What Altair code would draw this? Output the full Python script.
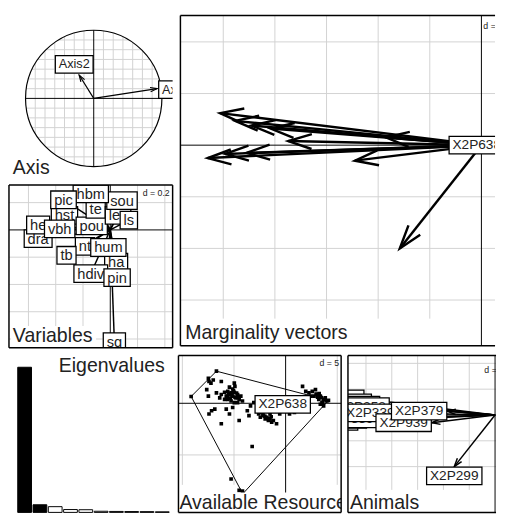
import altair as alt
import numpy as np
import pandas as pd

FONT = "Liberation Sans"
GRID = "#d2d2d2"
INK = "#222222"

# ---------------- data ----------------
# correlation circle (Axis panel)
axis_names = ["Axis1", "Axis2"]
axis_x = [0.929, -0.214]
axis_y = [0.143, 0.343]
axis_lab_x = [1.23, -0.286]
axis_lab_y = [0.129, 0.50]

# Variables panel (drawing order: bottom to top)
var_names = ["sq", "dra", "he", "hst", "nt", "pou", "te", "les", "ls", "ha",
             "hdiv", "pin", "hum", "tb", "vbh", "sou", "hbm", "pic"]
var_x = [0.03, -0.529, -0.529, -0.336, -0.186, -0.136, -0.107, 0.057, 0.136, 0.043,
         -0.143, 0.05, -0.014, -0.321, -0.371, 0.086, -0.143, -0.343]
var_y = [-0.82, -0.064, 0.036, 0.107, -0.121, 0.029, 0.15, 0.107, 0.071, -0.236,
         -0.321, -0.35, -0.129, -0.186, 0.007, 0.214, 0.264, 0.221]

# marginality vectors of the animals
ani_names = ["X2P038", "X2P738", "X2P158", "X2P258", "X2P339", "X2P468",
             "X2P868", "X2P559", "X2P939", "X2P379", "X2P299"]
ani_x = [-5.06, -4.77, -4.45, -4.08, -3.74, -5.30, -4.96, -4.55, -2.45, -1.85, -1.58]
ani_y = [0.62, 0.47, 0.38, 0.32, 0.08, -0.25, -0.17, -0.15, -0.30, 0.15, -2.00]
centre_label = "X2P638"

# eigenvalues
eig_vals = [15.2, 0.8, 0.6, 0.3, 0.28, 0.12, 0.10, 0.09, 0.08, 0.06]
n_shown_axes = 2

# available resource units
res_x = [-7.48, -7.42, -7.23, -7.64, -7.01, -6.23, -4.97, -4.91,
         -6.23, -5.91, -5.75, -5.60, -5.44, -5.28, -5.13, -4.97, -4.81, -4.65, -4.50, -4.34,
         -5.60, -5.28, -4.97, -4.65, -5.91, -6.38, -6.70, -4.18, -5.13, -5.44,
         -7.17, -6.86, -7.42, -6.23, -5.75, -5.13, -5.44, -4.50, -3.71, -3.40, -3.55, -3.08,
         -2.61, -2.45, -2.14, -1.98, -1.82, -1.67, -1.51, -1.35, -1.19, -0.88, -2.30, -1.51,
         -0.57, -0.09, 0.38, 0.85, 1.01, 1.48,
         1.64, 1.95, 2.26, 2.58, 2.74, 3.05, 3.21, 3.36, 3.52, 3.68, 3.84, 3.99, 3.68, 3.36, 2.89, 2.42,
         -3.24, -5.28, -4.50, -4.18, -7.48,
         -6.70, 4.15, -4.15, -9.15,
         -5.50, -5.20, -4.90, -5.35, -5.05, -4.75, -5.65, -4.60, -2.00, -1.70, -1.40, -2.20,
         3.10, 3.45, 3.80, 3.25, 2.95, 3.60]
res_y = [2.42, 2.11, 1.95, 1.32, 2.26, 2.11, 1.95, 1.64,
         0.85, 1.07, 0.69, 1.16, 0.85, 1.01, 0.69, 1.07, 0.53, 0.85, 0.38, 0.69,
         0.38, 0.22, 0.06, 0.06, 0.38, 0.53, 1.01, 0.22, 1.38, 1.57,
         -0.72, -0.57, -1.04, -1.98, -0.57, -0.41, -1.04, -1.67, -0.72, -0.25, -1.19, 0.06,
         -1.04, -1.35, -1.19, -1.51, -1.35, -1.67, -1.51, -1.82, -1.67, -1.98, -0.88, -1.04,
         -1.04, -0.72, -1.04, -0.88, -0.41, -0.72,
         1.64, 1.16, 1.01, 1.16, 0.69, 0.85, 0.38, 0.69, 0.06, 0.38, 0.53, 0.22, -0.25, -0.09, 1.32, 0.69,
         -4.18, -7.33, -8.43, -8.49, 0.69,
         3.11, 0.28, -8.77, 0.66,
         0.95, 0.80, 0.60, 0.50, 1.20, 1.00, 0.70, 0.55, -1.25, -1.45, -1.30, -1.10,
         0.60, 0.55, 0.35, 0.95, 0.90, 0.10]
hull_x = [-6.70, 4.15, -4.15, -9.15]
hull_y = [3.11, 0.28, -8.77, 0.66]
avail_label_x, avail_label_y = -0.28, -0.10
marg_label_x, marg_label_y = -0.09, 0.0

# ---------------- helpers ----------------
CW = {'X': .667, 'P': .667, 'A': .667, 'T': .611, 'a': .556, 'b': .556, 'c': .5, 'd': .556,
      'e': .556, 'g': .556, 'h': .556, 'i': .222, 'l': .222, 'm': .833, 'n': .556, 'o': .556,
      'p': .556, 'q': .556, 'r': .333, 's': .5, 't': .278, 'u': .556, 'v': .5, 'x': .5,
      'y': .5, ' ': .278, 'E': .667, 'M': .833, 'V': .667, 'R': .722}


def text_w(s, fs):
    return sum(CW.get(c, 0.556) for c in s) * fs


def box_path(s, fs, padx=3.5, h=9.0):
    w = text_w(s, fs) / 2 + padx
    return f"M{-w:.1f},{-h}H{w:.1f}V{h}H{-w:.1f}Z"


class Panel:
    def __init__(self, w, h, k=None, ox=None, oy=None, xd=None, yd=None):
        self.w, self.h, self.k = w, h, k
        self.xd = xd if xd is not None else [-ox / k, (w - ox) / k]
        self.yd = yd if yd is not None else [-(h - oy) / k, oy / k]

    def X(self, f):
        return alt.X(f, type="quantitative", axis=None,
                     scale=alt.Scale(domain=self.xd, nice=False, zero=False))

    def Y(self, f):
        return alt.Y(f, type="quantitative", axis=None,
                     scale=alt.Scale(domain=self.yd, nice=False, zero=False))


def segs(p, x1, y1, x2, y2, color, sw, clip=True):
    df = pd.DataFrame({"x1": x1, "y1": y1, "x2": x2, "y2": y2})
    return alt.Chart(df).mark_rule(color=color, strokeWidth=sw, clip=clip).encode(
        x=p.X("x1"), y=p.Y("y1"), x2=alt.X2("x2"), y2=alt.Y2("y2"))


def grid(p, xs, ys, ybot=None):
    out = []
    yb = p.yd[0] if ybot is None else ybot
    if xs:
        out.append(segs(p, xs, [yb] * len(xs), xs, [p.yd[1]] * len(xs), GRID, 1))
    if ys:
        out.append(segs(p, [p.xd[0]] * len(ys), ys, [p.xd[1]] * len(ys), ys, GRID, 1))
    return out


def cross(p):
    return segs(p, [p.xd[0], 0], [0, p.yd[0]], [p.xd[1], 0], [0, p.yd[1]], "black", 1)


def frame(p, right=True):
    x0, x1 = p.xd
    y0, y1 = p.yd
    a = [(x0, y0, x0, y1), (x0, y1, x1, y1), (x0, y0, x1, y0)]
    if right:
        a.append((x1, y0, x1, y1))
    c = list(zip(*a))
    return segs(p, c[0], c[1], c[2], c[3], "black", 1.5, clip=False)


CHEVRON = "M-1,-0.32L0,0L-1,0.32"


def arrows(p, xs, ys, sw, head=None):
    df = pd.DataFrame({"x0": 0.0, "y0": 0.0, "x": xs, "y": ys})
    df["ang"] = np.degrees(np.arctan2(-df["y"], df["x"])) % 360
    out = [alt.Chart(df).mark_rule(color="black", strokeWidth=sw, clip=True).encode(
        x=p.X("x0"), y=p.Y("y0"), x2=alt.X2("x"), y2=alt.Y2("y"))]
    if head:
        out.append(alt.Chart(df).mark_point(shape=CHEVRON, filled=False, stroke="black",
                                            strokeWidth=sw, size=head, opacity=1, clip=True).encode(
            x=p.X("x"), y=p.Y("y"), angle=alt.Angle("ang:Q", scale=None)))
    return out


def labels(p, names, xs, ys, fs=14):
    out = []
    for n, x, y in zip(names, xs, ys):
        df = pd.DataFrame({"name": [n], "x": [x], "y": [y], "box": [box_path(n, fs)]})
        base = alt.Chart(df)
        out.append(base.mark_point(filled=True, fill="white", stroke="black", strokeWidth=1.3,
                                   size=4, opacity=1, fillOpacity=1, clip=True).encode(
            x=p.X("x"), y=p.Y("y"), shape=alt.Shape("box:N", scale=None, legend=None)))
        out.append(base.mark_text(font=FONT, fontSize=fs, color=INK, baseline="middle",
                                  align="center", clip=True).encode(
            x=p.X("x"), y=p.Y("y"), text="name:N"))
    return out


def title(text, x, y, fs=20, align="left", box=True):
    df = pd.DataFrame({"t": [text]})
    out = []
    if box:
        w = text_w(text, fs)
        x0 = 0 if align == "left" else -w
        path = f"M{x0 - 2:.1f},{-0.82 * fs:.1f}H{x0 + w + 2:.1f}V{0.3 * fs:.1f}H{x0 - 2:.1f}Z"
        out.append(alt.Chart(df).mark_point(shape=path, size=4, filled=True, fill="white",
                                            strokeWidth=0, opacity=1, clip=True).encode(
            x=alt.value(x), y=alt.value(y)))
    out.append(alt.Chart(df).mark_text(font=FONT, fontSize=fs, align=align, baseline="alphabetic",
                                       color=INK, clip=True).encode(
        x=alt.value(x), y=alt.value(y), text="t:N"))
    return out


def outward(names, xs, ys, k, fs=14):
    lx, ly = [], []
    for n, x, y in zip(names, xs, ys):
        hw = text_w(n, fs) / 2 + 4
        if abs(x) >= abs(y):
            lx.append(x + np.sign(x) * hw / k)
            ly.append(y)
        else:
            lx.append(x)
            ly.append(y + np.sign(y) * 9.5 / k)
    return lx, ly


# ---------------- Axis panel ----------------
pa = Panel(168, 168, k=70, ox=87, oy=85)
step = 1 / 7
gv = [i * step for i in range(-6, 7) if i != 0]
half = [np.sqrt(1 - v * v) for v in gv]
axis_layers = [
    segs(pa, gv, [-h for h in half], gv, half, GRID, 1),
    segs(pa, [-h for h in half], gv, half, gv, GRID, 1),
    segs(pa, [-1, 0], [0, -1], [1, 0], [0, 1], "black", 1),
    alt.Chart(pd.DataFrame({"x": [0.0], "y": [0.0]})).mark_point(
        filled=False, stroke="black", strokeWidth=1.2, opacity=1, size=140 ** 2).encode(
        x=pa.X("x"), y=pa.Y("y")),
    *arrows(pa, axis_x, axis_y, 1.2, head=196),
    *labels(pa, axis_names, axis_lab_x, axis_lab_y, fs=13),
    *title("Axis", 4, 163),
]
axis_chart = alt.layer(*axis_layers).properties(width=pa.w, height=pa.h)

# ---------------- Variables panel ----------------
pv = Panel(168, 167, k=140, ox=104, oy=46)
var_layers = [
    *grid(pv, [-0.6, -0.4, -0.2, 0.2, 0.4], [0.2, -0.2, -0.4, -0.6, -0.8]),
    cross(pv),
    *arrows(pv, var_x, var_y, 1.5),
    *labels(pv, var_names, var_x, var_y, fs=15),
    *title("Variables", 4, 161),
    *title("d = 0.2", 165, 11, fs=9, align="right", box=False),
    frame(pv),
]
var_chart = alt.layer(*var_layers).properties(width=pv.w, height=pv.h)

# ---------------- Marginality panel ----------------
pm = Panel(323, 339, k=53, ox=309, oy=133)
marg_layers = [
    *grid(pm, [-5, -4, -3, -2, -1], [2, 1, -1, -2, -3], ybot=-3.36),
    cross(pm),
    *arrows(pm, ani_x, ani_y, 2.5, head=2304),
    *labels(pm, [centre_label], [marg_label_x], [marg_label_y]),
    *title("Marginality vectors", 5, 332),
    *title("d = 1", 311, 14, fs=9, box=False),
    frame(pm, right=False),
]
marg_chart = alt.layer(*marg_layers).properties(width=pm.w, height=pm.h)

# ---------------- Eigenvalues panel ----------------
pe = Panel(168, 161, xd=[-9 / 15.7, (168 - 9) / 15.7], yd=[0, 15.2 * 161 / 149])
eig_df = pd.DataFrame({"i": np.arange(len(eig_vals)), "v": eig_vals})
eig_df["i2"] = eig_df["i"] + 0.9
eig_df["zero"] = 0.0
eig_df["fill"] = ["black" if i < n_shown_axes else "white" for i in eig_df["i"]]
eig_layers = [
    alt.Chart(eig_df).mark_rect(stroke="black", strokeWidth=1).encode(
        x=pe.X("i"), x2=alt.X2("i2"), y=pe.Y("zero"), y2=alt.Y2("v"),
        fill=alt.Fill("fill:N", scale=None)),
    *title("Eigenvalues", 160, 17, align="right", box=False),
]
eig_chart = alt.layer(*eig_layers).properties(width=pe.w, height=pe.h)

# ---------------- Available resources panel ----------------
pr = Panel(167, 161, k=10.6, ox=110, oy=49)
hull_df = pd.DataFrame({"x": hull_x + hull_x[:1], "y": hull_y + hull_y[:1],
                        "o": list(range(len(hull_x) + 1))})
res_df = pd.DataFrame({"x": res_x, "y": res_y})
avail_layers = [
    *grid(pr, [-10, -5, 5], [-5], ybot=-7.9),
    cross(pr),
    alt.Chart(hull_df).mark_line(color="black", strokeWidth=1, clip=True).encode(
        x=pr.X("x"), y=pr.Y("y"), order="o:Q"),
    alt.Chart(res_df).mark_square(color="black", size=14, opacity=1, clip=True).encode(
        x=pr.X("x"), y=pr.Y("y")),
    *labels(pr, [centre_label], [avail_label_x], [avail_label_y]),
    *title("Available Resources", 1, 157),
    *title("d = 5", 165, 11, fs=9, align="right", box=False),
    frame(pr),
]
avail_chart = alt.layer(*avail_layers).properties(width=pr.w, height=pr.h)

# ---------------- Animals panel ----------------
pn = Panel(152, 161, k=26.5, ox=151, oy=61)
lx, ly = outward(ani_names, ani_x, ani_y, pn.k)
order = np.argsort(lx)
anim_layers = [
    *grid(pn, [-5, -4, -3, -2, -1], [2, 1, -1, -2], ybot=-2.9),
    cross(pn),
    *arrows(pn, ani_x, ani_y, 1.5, head=300),
    *labels(pn, [ani_names[i] for i in order], [lx[i] for i in order], [ly[i] for i in order]),
    *title("Animals", 2, 157),
    *title("d = 1", 140, 18, fs=9, box=False),
    frame(pn, right=False),
]
anim_chart = alt.layer(*anim_layers).properties(width=pn.w, height=pn.h)

left = alt.vconcat(axis_chart, var_chart, spacing=5)
top = alt.hconcat(left, marg_chart, spacing=6)
bottom = alt.hconcat(eig_chart, avail_chart, anim_chart, spacing=5)
chart = (
    alt.vconcat(top, bottom, spacing=6)
    .properties(padding=0)
    .configure(font=FONT)
    .configure_view(strokeWidth=0, stroke="transparent")
)

chart.save("out.html", embed_options={"renderer": "svg", "actions": False})
